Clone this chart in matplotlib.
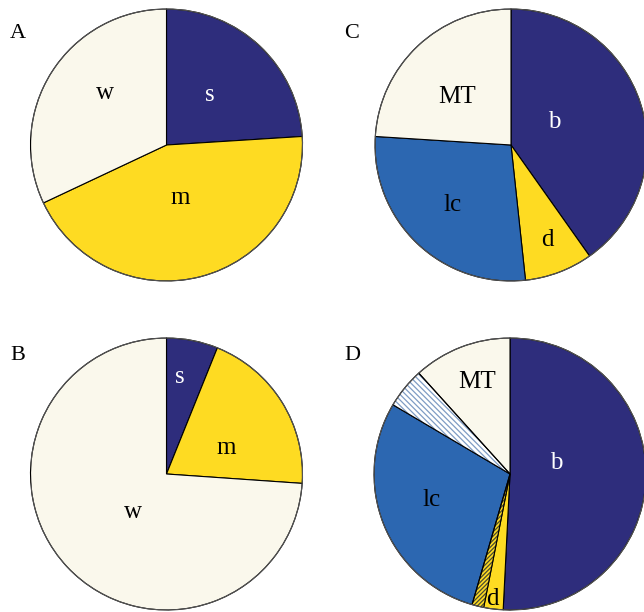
import matplotlib
matplotlib.use("Agg")
import matplotlib.pyplot as plt
from matplotlib.patches import Wedge

plt.rcParams['font.family'] = ['Liberation Serif', 'DejaVu Serif']
plt.rcParams['hatch.linewidth'] = 0.9

# colours
navy = '#2e2d7c'
yellow = '#fedb22'
cream = '#faf8ec'
blue = '#2c67b1'

# panel A / B: s, m, w
ab_labels = ['s', 'm', 'w']
a_values = [24.0, 44.0, 32.0]
b_values = [6.1, 20.0, 73.9]
ab_colors = [navy, yellow, cream]

# panel C: b, d, lc, MT
c_labels = ['b', 'd', 'lc', 'MT']
c_values = [40.2, 8.1, 27.7, 24.0]
c_colors = [navy, yellow, blue, cream]

# panel D: b, d, d (hatched), lc, lc (hatched), MT
d_labels = ['b', 'd', '', 'lc', '', 'MT']
d_values = [50.8, 2.3, 1.4, 29.0, 4.8, 11.7]
d_colors = [navy, yellow, yellow, blue, 'white', cream]
d_hatch = [None, None, '////////', None, '\\\\\\\\\\\\', None]
d_hatchcol = [None, None, '#4a4a30', None, '#7f9cc4', None]

# label positions (in units of radius, relative to centre)
a_pos = [(0.32, 0.37), (0.10, -0.39), (-0.45, 0.38)]
b_pos = [(0.10, 0.71), (0.44, 0.19), (-0.25, -0.28)]
c_pos = [(0.32, 0.17), (0.27, -0.70), (-0.43, -0.44), (-0.40, 0.355)]
d_pos = [(0.34, 0.08), (-0.127, -0.92), None, (-0.576, -0.19), None, (-0.245, 0.68)]

W, H = 644, 612
R = 136
fig = plt.figure(figsize=(W / 100, H / 100), dpi=100)


def make_ax(cx, cy):
    ax = fig.add_axes([(cx - R) / W, (H - cy - R) / H, 2 * R / W, 2 * R / H])
    return ax


def draw(ax, values, colors, labels, pos, hatches=None, hatchcols=None):
    wedges, _ = ax.pie(values, colors=colors, startangle=90, counterclock=False,
                       radius=1, wedgeprops=dict(edgecolor='black', linewidth=0.8))
    if hatches:
        for w, h, hc in zip(wedges, hatches, hatchcols):
            if h:
                w.set_hatch(h)
                w.set_edgecolor(hc)
                w.set_linewidth(0.0)
                ax.add_patch(Wedge(w.center, w.r, w.theta1, w.theta2, fill=False,
                                   edgecolor='black', linewidth=0.8))
    # thin outer circle
    ax.add_patch(Wedge((0, 0), 1, 0, 360, fill=False, edgecolor='#555555', linewidth=0.8))
    for lab, c, p in zip(labels, colors, pos):
        if p is None or not lab:
            continue
        tc = 'white' if c == navy else 'black'
        ax.text(p[0], p[1], lab, ha='center', va='center', fontsize=18, color=tc)
    ax.set_xlim(-1, 1)
    ax.set_ylim(-1, 1)
    ax.set_aspect('equal')
    ax.axis('off')


axA = make_ax(166.5, 145)
draw(axA, a_values, ab_colors, ab_labels, a_pos)
axB = make_ax(166.5, 474)
draw(axB, b_values, ab_colors, ab_labels, b_pos)
axC = make_ax(511, 145)
draw(axC, c_values, c_colors, c_labels, c_pos)
axD = make_ax(510, 474)
draw(axD, d_values, d_colors, d_labels, d_pos, d_hatch, d_hatchcol)

for letter, x, y in [('A', 18, 33), ('B', 18, 355), ('C', 352, 33), ('D', 352, 355)]:
    fig.text(x / W, 1 - y / H, letter, ha='center', va='center', fontsize=16)

fig.savefig('out.png', dpi=100)
